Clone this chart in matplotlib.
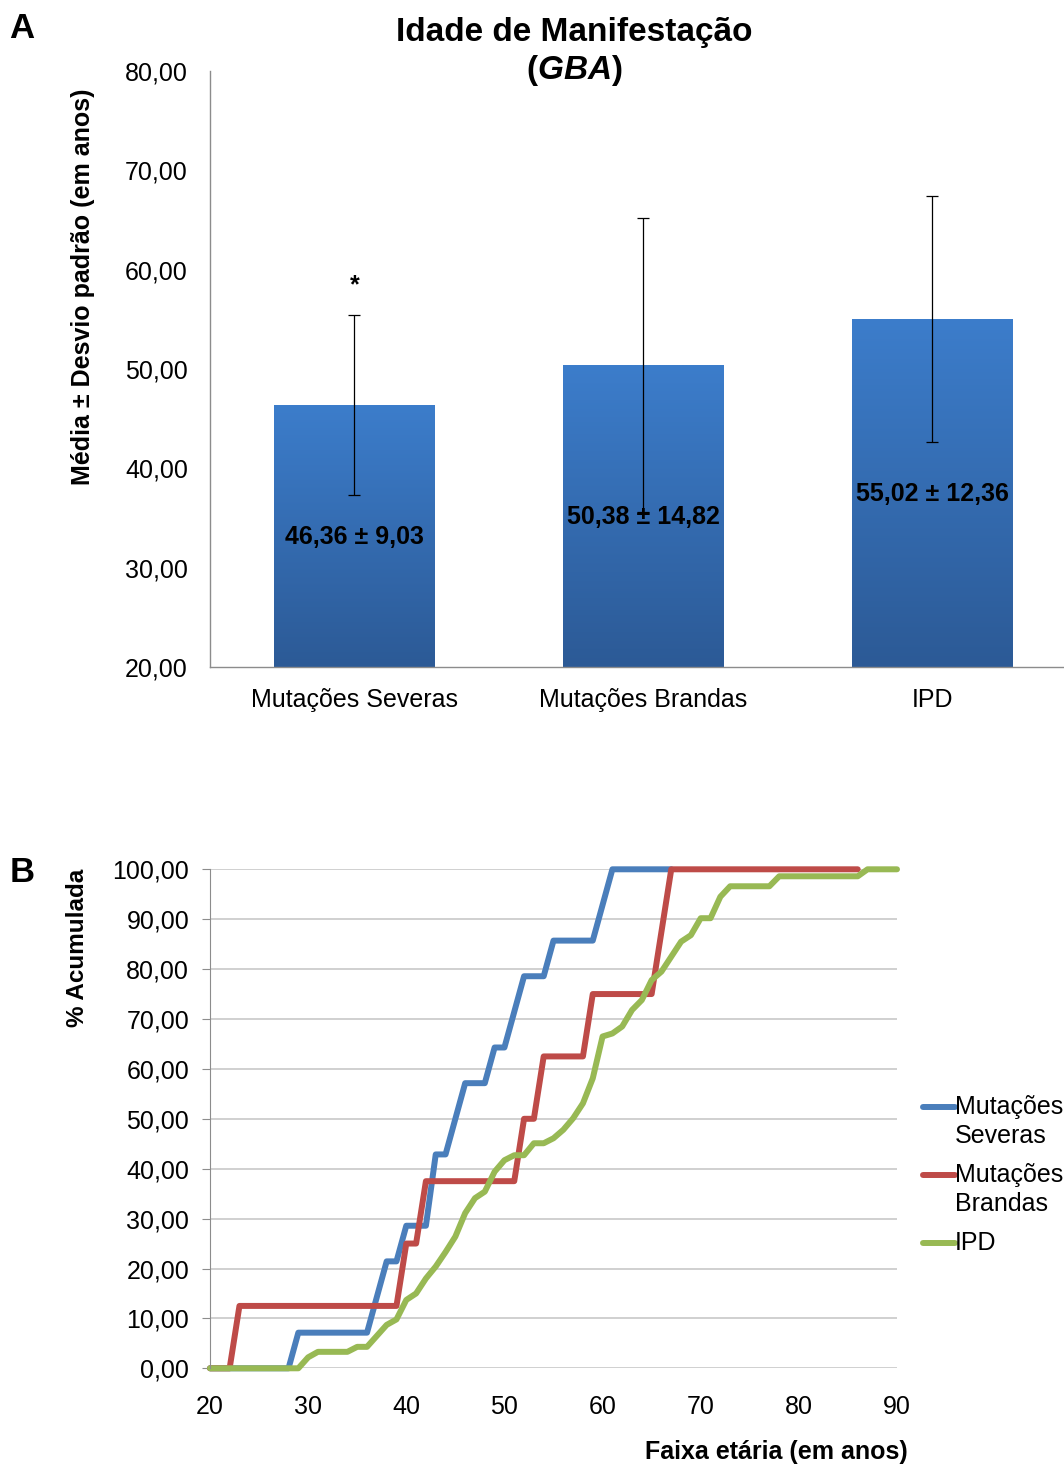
import numpy as np
import matplotlib
matplotlib.use("Agg")
import matplotlib.pyplot as plt
from matplotlib.colors import LinearSegmentedColormap
from matplotlib.lines import Line2D

plt.rcParams['font.family'] = ['Liberation Sans', 'DejaVu Sans']
plt.rcParams['mathtext.fontset'] = 'custom'
plt.rcParams['mathtext.it'] = 'Liberation Sans:bold:italic'

# ---------------- data ----------------
# panel A: mean age of onset +/- SD
groups = ['Mutações Severas', 'Mutações Brandas', 'IPD']
means = [46.36, 50.38, 55.02]
sds = [9.03, 14.82, 12.36]
label_y = [33.1, 35.1, 37.4]   # where the value text sits inside each bar
star_y = 58.4

# panel B: cumulative % by age
ages_sev = [20, 28, 29, 36, 38, 39, 40, 42, 43, 44, 46, 48, 49, 50, 52, 54, 55, 59, 61, 67]
pct_sev = [0, 0, 7.14, 7.14, 21.43, 21.43, 28.57, 28.57, 42.86, 42.86, 57.14, 57.14,
           64.29, 64.29, 78.57, 78.57, 85.71, 85.71, 100, 100]

ages_bra = [20, 22, 23, 39, 40, 41, 42, 51, 52, 53, 54, 58, 59, 65, 67, 86]
pct_bra = [0, 0, 12.5, 12.5, 25, 25, 37.5, 37.5, 50, 50, 62.5, 62.5, 75, 75, 100, 100]

ages_ipd = [20, 29, 30, 31, 34, 35, 36, 37, 38, 39, 40, 41, 42, 43, 44, 45, 46, 47, 48,
            49, 50, 51, 52, 53, 54, 55, 56, 57, 58, 59, 60, 61, 62, 63, 64, 65, 66, 67,
            68, 69, 70, 71, 72, 73, 77, 78, 86, 87, 90]
pct_ipd = [0, 0, 2.2, 3.3, 3.3, 4.3, 4.3, 6.5, 8.7, 9.8, 13.7, 15.0, 18.0, 20.4, 23.3,
           26.4, 31.1, 34.1, 35.4, 39.4, 41.7, 42.7, 42.7, 45.1, 45.1, 46.1, 47.8, 50.1,
           53.1, 58.1, 66.5, 67.1, 68.5, 71.8, 73.8, 77.8, 79.5, 82.5, 85.5, 86.8, 90.2,
           90.2, 94.5, 96.6, 96.6, 98.6, 98.6, 100, 100]

series_labels = ['Mutações\nSeveras', 'Mutações\nBrandas', 'IPD']
series_colors = ['#4a7ebb', '#be4b48', '#98b954']

W, H = 1064, 1466
fig = plt.figure(figsize=(W / 100, H / 100), dpi=100)
grey = '#8c8c8c'

# ================= panel A =================
axA = fig.add_axes([210 / W, 1 - 667 / H, (1076.5 - 210) / W, (667 - 71) / H])
x = np.arange(len(groups))
bars = axA.bar(x, [m - 20 for m in means], bottom=20, width=0.554, color='none',
               edgecolor='none')
cmap = LinearSegmentedColormap.from_list('barfill', ['#2c5a96', '#3c7dcb'])
grad = np.linspace(0, 1, 256).reshape(-1, 1)
for b in bars:
    im = axA.imshow(grad, cmap=cmap, origin='lower', aspect='auto',
                    extent=[b.get_x(), b.get_x() + b.get_width(), 20, b.get_y() + b.get_height()],
                    zorder=2)
    im.set_clip_path(b)

axA.errorbar(x, means, yerr=sds, fmt='none', ecolor='black', elinewidth=0.9,
             capsize=4, capthick=0.9, zorder=3)

for i in range(len(groups)):
    txt = '%s ± %s' % (('%.2f' % means[i]).replace('.', ','), ('%.2f' % sds[i]).replace('.', ','))
    axA.text(x[i], label_y[i], txt, ha='center', va='center', fontsize=18,
             fontweight='bold', color='black', zorder=4)
axA.text(x[0], star_y, '*', ha='center', va='center', fontsize=18, fontweight='bold')

axA.set_xlim(-0.5, 2.5)
axA.set_ylim(20, 80)
axA.set_yticks(range(20, 81, 10))
axA.set_yticklabels(['%d,00' % v for v in range(20, 81, 10)])
axA.set_xticks(x)
axA.set_xticklabels(groups)
axA.tick_params(axis='y', length=0, pad=16, labelsize=18)
axA.tick_params(axis='x', length=0, pad=15, labelsize=18)
for s in ['top', 'right']:
    axA.spines[s].set_visible(False)
for s in ['left', 'bottom']:
    axA.spines[s].set_color(grey)
    axA.spines[s].set_linewidth(1.0)

fig.text(574 / W, 1 - 32 / H, 'Idade de Manifestação', ha='center', va='center',
         fontsize=24, fontweight='bold')
fig.text(574 / W, 1 - 70 / H, r'($\mathit{GBA}$)', ha='center', va='center',
         fontsize=24, fontweight='bold')
fig.text(83 / W, 1 - 287 / H, 'Média ± Desvio padrão (em anos)', rotation=90,
         ha='center', va='center', fontsize=18, fontweight='bold')
fig.text(22 / W, 1 - 28 / H, 'A', ha='center', va='center', fontsize=25, fontweight='bold')

# ================= panel B =================
axB = fig.add_axes([210 / W, 1 - 1368.3 / H, 687 / W, 499 / H])
for ages, pct, col in zip([ages_sev, ages_bra, ages_ipd], [pct_sev, pct_bra, pct_ipd],
                          series_colors):
    axB.plot(ages, pct, color=col, lw=4.3, solid_joinstyle='round',
             solid_capstyle='round', clip_on=False)

axB.set_xlim(20, 90)
axB.set_ylim(0, 100)
axB.set_yticks(range(0, 101, 10))
axB.set_yticklabels(['%d,00' % v for v in range(0, 101, 10)])
axB.set_xticks(range(20, 91, 10))
axB.grid(axis='y', color='#c3c3c3', lw=1.1)
axB.set_axisbelow(True)
axB.tick_params(axis='y', length=6, color=grey, pad=9, labelsize=18)
axB.tick_params(axis='x', length=0, pad=19, labelsize=18)
for s in ['top', 'right', 'bottom']:
    axB.spines[s].set_visible(False)
axB.spines['left'].set_color(grey)

fig.text(77 / W, 1 - 948 / H, '% Acumulada', rotation=90, ha='center', va='center',
         fontsize=17.5, fontweight='bold')
fig.text(776 / W, 1 - 1452 / H, 'Faixa etária (em anos)', ha='center', va='center',
         fontsize=18, fontweight='bold')
fig.text(22 / W, 1 - 873 / H, 'B', ha='center', va='center', fontsize=25, fontweight='bold')

# legend drawn by hand so the swatch sits on the first text line
leg_y = [1107, 1175, 1243]
for lab, col, yy in zip(series_labels, series_colors, leg_y):
    fig.add_artist(Line2D([923 / W, 955 / W], [1 - yy / H, 1 - yy / H], color=col, lw=4.3,
                          solid_capstyle='round', transform=fig.transFigure))
    for k, part in enumerate(lab.split('\n')):
        fig.text(955 / W, 1 - (yy + 29 * k) / H, part, ha='left', va='center', fontsize=18)

fig.savefig('out.png', dpi=100)
